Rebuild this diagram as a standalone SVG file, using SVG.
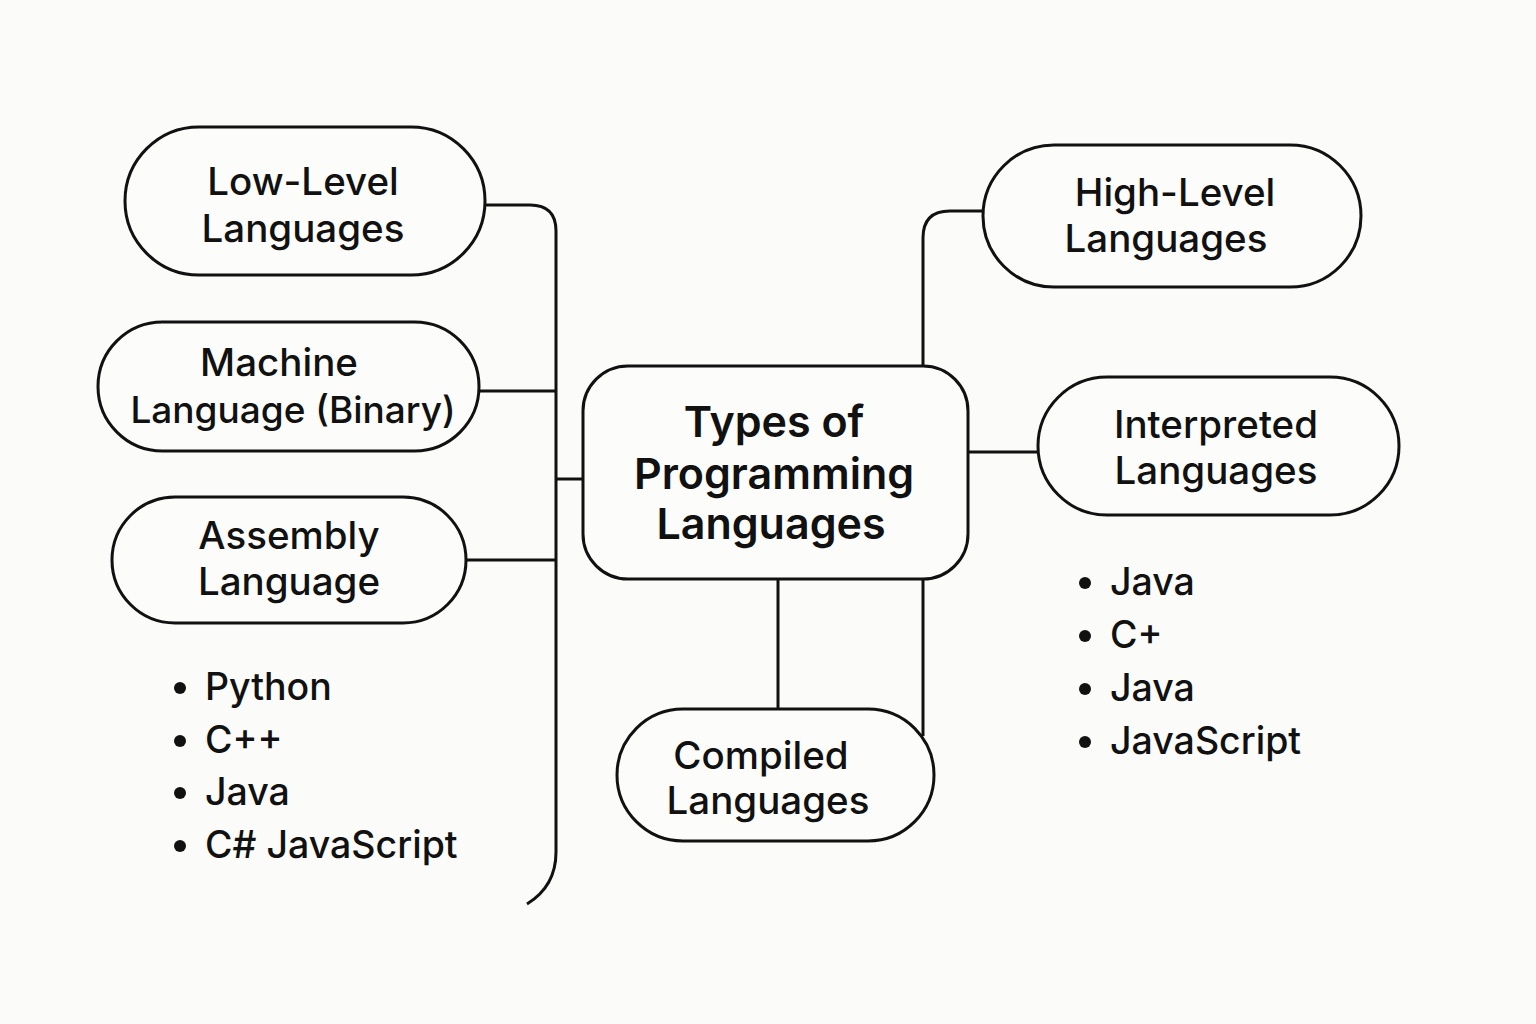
<svg xmlns="http://www.w3.org/2000/svg" width="1536" height="1024" viewBox="0 0 1536 1024">
<style>
.node{fill:#fcfcfa;stroke:#111;stroke-width:3}
.lbl{font-family:Inter,"Noto Sans","Liberation Sans",sans-serif;font-size:38.5px;font-weight:500;fill:#111;text-anchor:middle}
.ctr{font-family:Inter,"Noto Sans","Liberation Sans",sans-serif;font-size:43px;font-weight:600;fill:#111;text-anchor:middle}
.lst{font-family:Inter,"Noto Sans","Liberation Sans",sans-serif;font-size:37.5px;font-weight:500;fill:#111}
.con{fill:none;stroke:#111;stroke-width:3}
</style>
<rect width="1536" height="1024" fill="#fbfbf9"/>
<g id="connectors">
<path class="con" d="M485 205 H530 Q556 205 556 231 V852 C556 877 545 893 527 904"/>
<path class="con" d="M479 391 H556"/>
<path class="con" d="M556 479 H583"/>
<path class="con" d="M466 560 H556"/>
<path class="con" d="M923 366 V238 Q923 211 950 211 H983"/>
<path class="con" d="M968 452 H1038"/>
<path class="con" d="M778 579 V709"/>
<path class="con" d="M923 579 V736"/>
</g>
<g id="low-level">
<rect class="node" x="125" y="127" width="360" height="148" rx="74"/>
<text class="lbl" x="303" y="195">Low-Level</text>
<text class="lbl" x="303" y="242">Languages</text>
</g>
<g id="machine">
<rect class="node" x="98" y="322" width="381" height="129" rx="64.5"/>
<text class="lbl" x="279" y="376">Machine</text>
<text class="lbl" x="293" y="423" style="font-size:37px">Language (Binary)</text>
</g>
<g id="assembly">
<rect class="node" x="112" y="497" width="354" height="126" rx="63"/>
<text class="lbl" x="289" y="549">Assembly</text>
<text class="lbl" x="289" y="595">Language</text>
</g>
<g id="center">
<rect class="node" x="583" y="366" width="385" height="213" rx="45"/>
<text class="ctr" x="774" y="437">Types of</text>
<text class="ctr" x="774" y="489">Programming</text>
<text class="ctr" x="771" y="539">Languages</text>
</g>
<g id="high-level">
<rect class="node" x="983" y="145" width="378" height="142" rx="71"/>
<text class="lbl" x="1175" y="206">High-Level</text>
<text class="lbl" x="1166" y="252">Languages</text>
</g>
<g id="interpreted">
<rect class="node" x="1038" y="377" width="361" height="138" rx="69"/>
<text class="lbl" x="1216" y="438">Interpreted</text>
<text class="lbl" x="1216" y="484">Languages</text>
</g>
<g id="compiled">
<rect class="node" x="617" y="709" width="317" height="132" rx="66"/>
<text class="lbl" x="761" y="769">Compiled</text>
<text class="lbl" x="768" y="814">Languages</text>
</g>
<g id="left-list">
<circle cx="180" cy="688" r="6" fill="#111"/><text class="lst" x="205" y="700">Python</text>
<circle cx="180" cy="741" r="6" fill="#111"/><text class="lst" x="205" y="753">C++</text>
<circle cx="180" cy="793" r="6" fill="#111"/><text class="lst" x="205" y="805">Java</text>
<circle cx="180" cy="846" r="6" fill="#111"/><text class="lst" x="205" y="858">C# JavaScript</text>
</g>
<g id="right-list">
<circle cx="1085" cy="583" r="6" fill="#111"/><text class="lst" x="1110" y="595">Java</text>
<circle cx="1085" cy="636" r="6" fill="#111"/><text class="lst" x="1110" y="648">C+</text>
<circle cx="1085" cy="689" r="6" fill="#111"/><text class="lst" x="1110" y="701">Java</text>
<circle cx="1085" cy="742" r="6" fill="#111"/><text class="lst" x="1110" y="754">JavaScript</text>
</g>
</svg>
